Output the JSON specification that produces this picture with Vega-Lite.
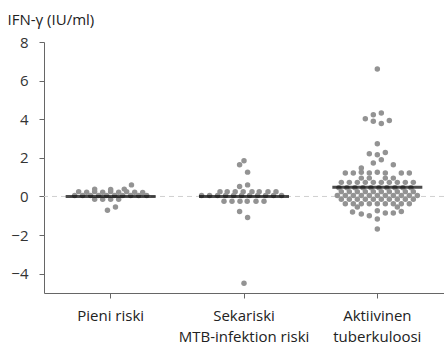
{
  "$schema": "https://vega.github.io/schema/vega-lite/v6.json",
  "width": 400,
  "height": 251,
  "autosize": "none",
  "padding": {"left": 44, "top": 42, "right": 0, "bottom": 59},
  "background": "white",
  "config": {"view": {"stroke": null}, "font": "Open Sans"},
  "layer": [
    {
      "data": {"values": [{"z": 0}]},
      "mark": {"type": "rule", "color": "#cfcfcf", "strokeDash": [5, 4], "strokeWidth": 1},
      "encoding": {"y": {"field": "z", "type": "quantitative", "scale": {"domain": [-5, 8], "nice": false}}}
    },
    {
      "data": {"values": [
        {"g": "Pieni riski", "v": 0.05, "dx": -4.5}, {"g": "Pieni riski", "v": 0.05, "dx": -3.5}, {"g": "Pieni riski", "v": 0.05, "dx": -2.5}, {"g": "Pieni riski", "v": 0.05, "dx": -1.5}, {"g": "Pieni riski", "v": 0.05, "dx": -0.5}, {"g": "Pieni riski", "v": 0.05, "dx": 0.5}, {"g": "Pieni riski", "v": 0.05, "dx": 1.5}, {"g": "Pieni riski", "v": 0.05, "dx": 2.5}, {"g": "Pieni riski", "v": 0.05, "dx": 3.5}, {"g": "Pieni riski", "v": 0.05, "dx": 4.5},
        {"g": "Pieni riski", "v": 0.25, "dx": -4}, {"g": "Pieni riski", "v": 0.22, "dx": -3}, {"g": "Pieni riski", "v": 0.25, "dx": -2}, {"g": "Pieni riski", "v": 0.22, "dx": -1}, {"g": "Pieni riski", "v": 0.25, "dx": 0}, {"g": "Pieni riski", "v": 0.22, "dx": 1}, {"g": "Pieni riski", "v": 0.25, "dx": 2}, {"g": "Pieni riski", "v": 0.22, "dx": 3}, {"g": "Pieni riski", "v": 0.2, "dx": 4},
        {"g": "Pieni riski", "v": 0.38, "dx": -2}, {"g": "Pieni riski", "v": 0.36, "dx": 0}, {"g": "Pieni riski", "v": 0.38, "dx": 1.7}, {"g": "Pieni riski", "v": 0.6, "dx": 2.6},
        {"g": "Pieni riski", "v": -0.15, "dx": -2}, {"g": "Pieni riski", "v": -0.15, "dx": -1}, {"g": "Pieni riski", "v": -0.15, "dx": 0}, {"g": "Pieni riski", "v": -0.15, "dx": 1},
        {"g": "Pieni riski", "v": -0.55, "dx": 0.6}, {"g": "Pieni riski", "v": -0.72, "dx": -0.4},

        {"g": "Sekariski MTB-infektion riski", "v": 1.85, "dx": 0}, {"g": "Sekariski MTB-infektion riski", "v": 1.64, "dx": -0.55}, {"g": "Sekariski MTB-infektion riski", "v": 1.26, "dx": 0.45},
        {"g": "Sekariski MTB-infektion riski", "v": 0.6, "dx": 0.45}, {"g": "Sekariski MTB-infektion riski", "v": 0.52, "dx": -0.55},
        {"g": "Sekariski MTB-infektion riski", "v": 0.25, "dx": -3}, {"g": "Sekariski MTB-infektion riski", "v": 0.25, "dx": -2.1}, {"g": "Sekariski MTB-infektion riski", "v": 0.25, "dx": -1.1}, {"g": "Sekariski MTB-infektion riski", "v": 0.25, "dx": -0.1}, {"g": "Sekariski MTB-infektion riski", "v": 0.25, "dx": 1}, {"g": "Sekariski MTB-infektion riski", "v": 0.25, "dx": 1.9}, {"g": "Sekariski MTB-infektion riski", "v": 0.25, "dx": 3}, {"g": "Sekariski MTB-infektion riski", "v": 0.25, "dx": 4},
        {"g": "Sekariski MTB-infektion riski", "v": 0.05, "dx": -5.3}, {"g": "Sekariski MTB-infektion riski", "v": 0.05, "dx": -4.3}, {"g": "Sekariski MTB-infektion riski", "v": 0.05, "dx": -3.3}, {"g": "Sekariski MTB-infektion riski", "v": 0.05, "dx": -2.3}, {"g": "Sekariski MTB-infektion riski", "v": 0.05, "dx": -1.3}, {"g": "Sekariski MTB-infektion riski", "v": 0.05, "dx": -0.3}, {"g": "Sekariski MTB-infektion riski", "v": 0.05, "dx": 0.7}, {"g": "Sekariski MTB-infektion riski", "v": 0.05, "dx": 1.7}, {"g": "Sekariski MTB-infektion riski", "v": 0.05, "dx": 2.7}, {"g": "Sekariski MTB-infektion riski", "v": 0.05, "dx": 3.7}, {"g": "Sekariski MTB-infektion riski", "v": 0.05, "dx": 4.7},
        {"g": "Sekariski MTB-infektion riski", "v": -0.25, "dx": -2.5}, {"g": "Sekariski MTB-infektion riski", "v": -0.25, "dx": -1.5}, {"g": "Sekariski MTB-infektion riski", "v": -0.25, "dx": -0.5}, {"g": "Sekariski MTB-infektion riski", "v": -0.25, "dx": 0.4}, {"g": "Sekariski MTB-infektion riski", "v": -0.25, "dx": 1.5}, {"g": "Sekariski MTB-infektion riski", "v": -0.25, "dx": 2.5},
        {"g": "Sekariski MTB-infektion riski", "v": -0.78, "dx": -0.55}, {"g": "Sekariski MTB-infektion riski", "v": -1.09, "dx": 0.45}, {"g": "Sekariski MTB-infektion riski", "v": -4.5, "dx": 0},

        {"g": "Aktiivinen tuberkuloosi", "v": 6.6, "dx": 0},
        {"g": "Aktiivinen tuberkuloosi", "v": 4.32, "dx": 0.5}, {"g": "Aktiivinen tuberkuloosi", "v": 4.23, "dx": -0.5}, {"g": "Aktiivinen tuberkuloosi", "v": 4.03, "dx": -1.5}, {"g": "Aktiivinen tuberkuloosi", "v": 3.94, "dx": 1.5}, {"g": "Aktiivinen tuberkuloosi", "v": 3.89, "dx": -0.5}, {"g": "Aktiivinen tuberkuloosi", "v": 3.78, "dx": 0.5},
        {"g": "Aktiivinen tuberkuloosi", "v": 2.73, "dx": 0}, {"g": "Aktiivinen tuberkuloosi", "v": 2.28, "dx": 1}, {"g": "Aktiivinen tuberkuloosi", "v": 2.21, "dx": -1}, {"g": "Aktiivinen tuberkuloosi", "v": 2.16, "dx": 0}, {"g": "Aktiivinen tuberkuloosi", "v": 1.9, "dx": 0.5}, {"g": "Aktiivinen tuberkuloosi", "v": 1.73, "dx": -0.5}, {"g": "Aktiivinen tuberkuloosi", "v": 1.64, "dx": 2}, {"g": "Aktiivinen tuberkuloosi", "v": 1.47, "dx": -2},
        {"g": "Aktiivinen tuberkuloosi", "v": 1.21, "dx": -4}, {"g": "Aktiivinen tuberkuloosi", "v": 1.21, "dx": -3}, {"g": "Aktiivinen tuberkuloosi", "v": 1.25, "dx": -2}, {"g": "Aktiivinen tuberkuloosi", "v": 1.21, "dx": -1}, {"g": "Aktiivinen tuberkuloosi", "v": 1.25, "dx": 0}, {"g": "Aktiivinen tuberkuloosi", "v": 1.21, "dx": 1}, {"g": "Aktiivinen tuberkuloosi", "v": 1.21, "dx": 3}, {"g": "Aktiivinen tuberkuloosi", "v": 1.21, "dx": 4},
        {"g": "Aktiivinen tuberkuloosi", "v": 0.95, "dx": -2}, {"g": "Aktiivinen tuberkuloosi", "v": 0.95, "dx": -1}, {"g": "Aktiivinen tuberkuloosi", "v": 0.95, "dx": 1}, {"g": "Aktiivinen tuberkuloosi", "v": 0.95, "dx": 2},
        {"g": "Aktiivinen tuberkuloosi", "v": 0.73, "dx": -4.5}, {"g": "Aktiivinen tuberkuloosi", "v": 0.73, "dx": -3.5}, {"g": "Aktiivinen tuberkuloosi", "v": 0.73, "dx": -2.5}, {"g": "Aktiivinen tuberkuloosi", "v": 0.73, "dx": -1.5}, {"g": "Aktiivinen tuberkuloosi", "v": 0.73, "dx": -0.5}, {"g": "Aktiivinen tuberkuloosi", "v": 0.73, "dx": 0.5}, {"g": "Aktiivinen tuberkuloosi", "v": 0.73, "dx": 1.5}, {"g": "Aktiivinen tuberkuloosi", "v": 0.73, "dx": 2.5}, {"g": "Aktiivinen tuberkuloosi", "v": 0.73, "dx": 3.5}, {"g": "Aktiivinen tuberkuloosi", "v": 0.73, "dx": 4.5},
        {"g": "Aktiivinen tuberkuloosi", "v": 0.45, "dx": -4.8}, {"g": "Aktiivinen tuberkuloosi", "v": 0.45, "dx": -3.8}, {"g": "Aktiivinen tuberkuloosi", "v": 0.45, "dx": -2.8}, {"g": "Aktiivinen tuberkuloosi", "v": 0.45, "dx": -1.8}, {"g": "Aktiivinen tuberkuloosi", "v": 0.45, "dx": -0.8}, {"g": "Aktiivinen tuberkuloosi", "v": 0.45, "dx": 0.2}, {"g": "Aktiivinen tuberkuloosi", "v": 0.45, "dx": 1.2}, {"g": "Aktiivinen tuberkuloosi", "v": 0.45, "dx": 2.2}, {"g": "Aktiivinen tuberkuloosi", "v": 0.45, "dx": 3.2}, {"g": "Aktiivinen tuberkuloosi", "v": 0.45, "dx": 4.2},
        {"g": "Aktiivinen tuberkuloosi", "v": 0.25, "dx": -4.5}, {"g": "Aktiivinen tuberkuloosi", "v": 0.25, "dx": -3.5}, {"g": "Aktiivinen tuberkuloosi", "v": 0.25, "dx": -2.5}, {"g": "Aktiivinen tuberkuloosi", "v": 0.25, "dx": -1.5}, {"g": "Aktiivinen tuberkuloosi", "v": 0.25, "dx": -0.5}, {"g": "Aktiivinen tuberkuloosi", "v": 0.25, "dx": 0.5}, {"g": "Aktiivinen tuberkuloosi", "v": 0.25, "dx": 1.5}, {"g": "Aktiivinen tuberkuloosi", "v": 0.25, "dx": 2.5}, {"g": "Aktiivinen tuberkuloosi", "v": 0.25, "dx": 3.5}, {"g": "Aktiivinen tuberkuloosi", "v": 0.25, "dx": 4.5},
        {"g": "Aktiivinen tuberkuloosi", "v": 0.05, "dx": -5}, {"g": "Aktiivinen tuberkuloosi", "v": 0.05, "dx": -4}, {"g": "Aktiivinen tuberkuloosi", "v": 0.05, "dx": -3}, {"g": "Aktiivinen tuberkuloosi", "v": 0.05, "dx": -2}, {"g": "Aktiivinen tuberkuloosi", "v": 0.05, "dx": -1}, {"g": "Aktiivinen tuberkuloosi", "v": 0.05, "dx": 0}, {"g": "Aktiivinen tuberkuloosi", "v": 0.05, "dx": 1}, {"g": "Aktiivinen tuberkuloosi", "v": 0.05, "dx": 2}, {"g": "Aktiivinen tuberkuloosi", "v": 0.05, "dx": 3}, {"g": "Aktiivinen tuberkuloosi", "v": 0.05, "dx": 4}, {"g": "Aktiivinen tuberkuloosi", "v": 0.05, "dx": 5},
        {"g": "Aktiivinen tuberkuloosi", "v": -0.15, "dx": -4.5}, {"g": "Aktiivinen tuberkuloosi", "v": -0.15, "dx": -3.5}, {"g": "Aktiivinen tuberkuloosi", "v": -0.15, "dx": -2.5}, {"g": "Aktiivinen tuberkuloosi", "v": -0.15, "dx": -1.5}, {"g": "Aktiivinen tuberkuloosi", "v": -0.15, "dx": -0.5}, {"g": "Aktiivinen tuberkuloosi", "v": -0.15, "dx": 0.5}, {"g": "Aktiivinen tuberkuloosi", "v": -0.15, "dx": 1.5}, {"g": "Aktiivinen tuberkuloosi", "v": -0.15, "dx": 2.5}, {"g": "Aktiivinen tuberkuloosi", "v": -0.15, "dx": 3.5}, {"g": "Aktiivinen tuberkuloosi", "v": -0.15, "dx": 4.5},
        {"g": "Aktiivinen tuberkuloosi", "v": -0.38, "dx": -4}, {"g": "Aktiivinen tuberkuloosi", "v": -0.38, "dx": -3}, {"g": "Aktiivinen tuberkuloosi", "v": -0.38, "dx": -2}, {"g": "Aktiivinen tuberkuloosi", "v": -0.38, "dx": -1}, {"g": "Aktiivinen tuberkuloosi", "v": -0.38, "dx": 0}, {"g": "Aktiivinen tuberkuloosi", "v": -0.38, "dx": 1}, {"g": "Aktiivinen tuberkuloosi", "v": -0.38, "dx": 2}, {"g": "Aktiivinen tuberkuloosi", "v": -0.38, "dx": 3}, {"g": "Aktiivinen tuberkuloosi", "v": -0.38, "dx": 4},
        {"g": "Aktiivinen tuberkuloosi", "v": -0.55, "dx": -2.5}, {"g": "Aktiivinen tuberkuloosi", "v": -0.55, "dx": 2.5},
        {"g": "Aktiivinen tuberkuloosi", "v": -0.81, "dx": -3.1}, {"g": "Aktiivinen tuberkuloosi", "v": -0.91, "dx": -2}, {"g": "Aktiivinen tuberkuloosi", "v": -1.0, "dx": -1}, {"g": "Aktiivinen tuberkuloosi", "v": -0.74, "dx": 0}, {"g": "Aktiivinen tuberkuloosi", "v": -1.17, "dx": 0}, {"g": "Aktiivinen tuberkuloosi", "v": -0.86, "dx": 1}, {"g": "Aktiivinen tuberkuloosi", "v": -0.86, "dx": 2}, {"g": "Aktiivinen tuberkuloosi", "v": -0.78, "dx": 3},
        {"g": "Aktiivinen tuberkuloosi", "v": -1.69, "dx": 0}
      ]},
      "mark": {"type": "circle", "color": "#939393", "opacity": 1, "size": 30},
      "encoding": {
        "x": {
          "field": "g", "type": "nominal",
          "sort": ["Pieni riski", "Sekariski MTB-infektion riski", "Aktiivinen tuberkuloosi"],
          "scale": {"type": "band", "paddingInner": 0, "paddingOuter": 0},
          "axis": {
            "title": null, "labelAngle": 0, "labelFontSize": 15, "labelColor": "#222",
            "labelLineHeight": 21, "labelPadding": 10, "labelBaseline": "top",
            "domainColor": "#666", "tickColor": "#666", "tickSize": 5,
            "labelExpr": "datum.value == 'Pieni riski' ? 'Pieni riski' : datum.value == 'Aktiivinen tuberkuloosi' ? ['Aktiivinen', 'tuberkuloosi'] : ['Sekariski', 'MTB-infektion riski']"
          }
        },
        "xOffset": {"field": "dx", "type": "quantitative", "scale": {"domain": [-8.333, 8.333]}},
        "y": {
          "field": "v", "type": "quantitative",
          "scale": {"domain": [-5, 8], "nice": false},
          "axis": {
            "values": [-4, -2, 0, 2, 4, 6, 8], "grid": false,
            "domainColor": "#666", "tickColor": "#666", "tickSize": 5,
            "labelFontSize": 15, "labelColor": "#333", "labelPadding": 11,
            "title": "IFN-γ (IU/ml)", "titleAngle": 0, "titleAlign": "left", "titleBaseline": "alphabetic",
            "titleX": -37, "titleY": -18, "titleFontSize": 15, "titleFontWeight": "normal", "titleColor": "#222"
          }
        }
      }
    },
    {
      "data": {"values": [
        {"g": "Pieni riski", "m": 0},
        {"g": "Sekariski MTB-infektion riski", "m": 0},
        {"g": "Aktiivinen tuberkuloosi", "m": 0.48}
      ]},
      "mark": {"type": "tick", "color": "black", "thickness": 3, "size": 90, "orient": "horizontal"},
      "encoding": {
        "x": {"field": "g", "type": "nominal", "sort": ["Pieni riski", "Sekariski MTB-infektion riski", "Aktiivinen tuberkuloosi"]},
        "y": {"field": "m", "type": "quantitative"}
      }
    }
  ]
}
